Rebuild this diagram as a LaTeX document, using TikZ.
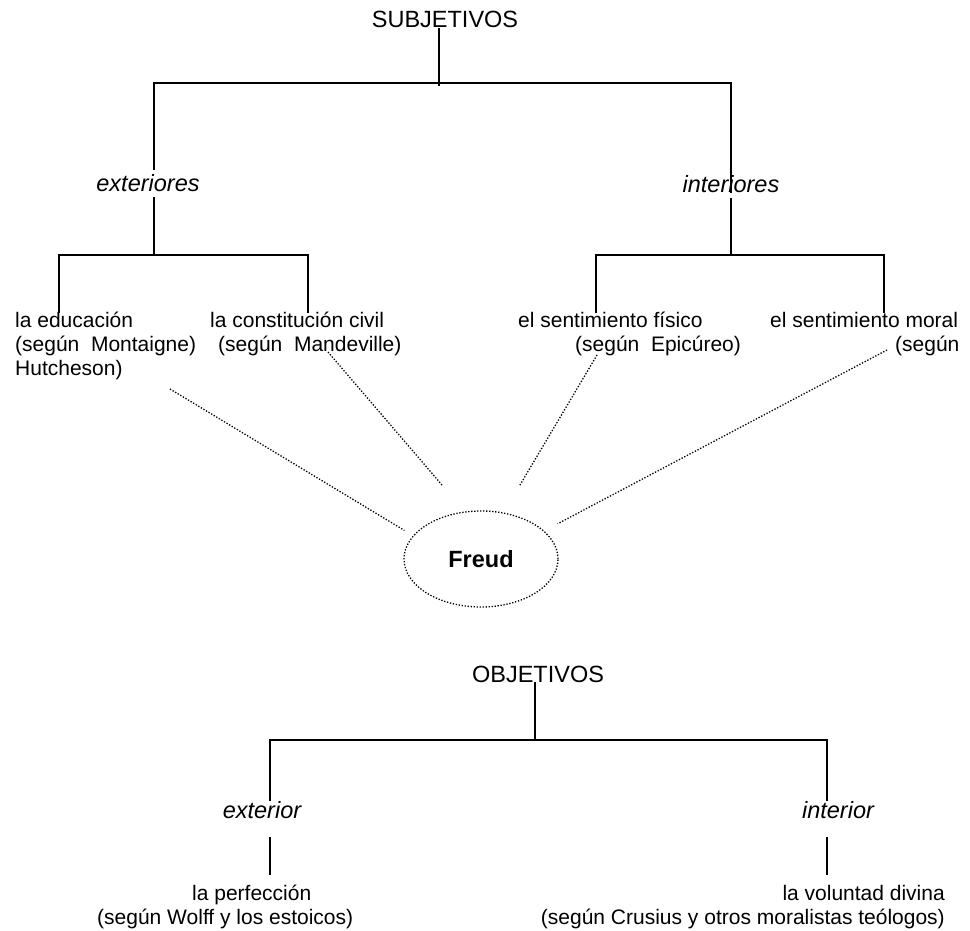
\documentclass[tikz,border=0pt]{standalone}
\usepackage{fontspec}
\setmainfont{Liberation Sans}
\usetikzlibrary{shapes.geometric}

\begin{document}
\begin{tikzpicture}[x=1pt, y=-1pt,
  txt/.style={inner sep=0pt, font=\fontsize{21}{25}\selectfont},
  head/.style={inner sep=0pt, anchor=base, font=\fontsize{23.5}{28}\selectfont},
  cat/.style={inner sep=0pt, anchor=base, font=\fontsize{23.5}{28}\selectfont\itshape},
  tree/.style={line width=1.8pt},
  link/.style={line width=1.3pt, dash pattern=on 1.3pt off 1.7pt}]
\useasboundingbox (0,0) rectangle (970,931);

\node[head] (subj) at (445,28) {SUBJETIVOS};
\node[cat] (ext) at (148,192) {exteriores};
\node[cat] (int) at (731,193) {interiores};

\node[txt, anchor=base west] (edu1) at (15,327) {la educación};
\node[txt, anchor=base west] (edu2) at (15,351) {(según~~Montaigne)};
\node[txt, anchor=base west] (edu3) at (15,375) {Hutcheson)};
\node[txt, anchor=base west] (civ1) at (210,327) {la constitución civil};
\node[txt, anchor=base west] (civ2) at (218,351) {(según~~Mandeville)};
\node[txt, anchor=base west] (fis1) at (518,327) {el sentimiento físico};
\node[txt, anchor=base west] (fis2) at (575,351) {(según~~Epicúreo)};
\node[txt, anchor=base west] (mor1) at (770,327) {el sentimiento moral};
\node[txt, anchor=base west] (mor2) at (895,351) {(según};

\coordinate (sj) at (439,83);
\coordinate (sL) at (154,83);
\coordinate (sR) at (731,83);
\coordinate (ej) at (154,255);
\coordinate (eL) at (59,255);
\coordinate (eR) at (308,255);
\coordinate (ij) at (731,255);
\coordinate (iL) at (596,255);
\coordinate (iR) at (884,255);

\draw[tree] (subj.base -| sj) -- ([yshift=-3pt]sj);
\draw[tree, shorten <=22pt] (ext.base -| sL) |- (sR) -- (int.base -| sR);
\draw[tree, shorten <=5pt] (ext.base -| ej) -- (ej);
\draw[tree, shorten <=5pt] (int.base -| ij) -- (ij);
\draw[tree, shorten <=14pt, shorten >=14pt] (edu1.base -| eL) |- (eR) -- (civ1.base -| eR);
\draw[tree, shorten <=14pt, shorten >=14pt] (fis1.base -| iL) |- (iR) -- (mor1.base -| iR);

\node[ellipse, draw, link, minimum width=154pt, minimum height=96pt, inner sep=0pt,
  font=\fontsize{23.5}{28}\selectfont\bfseries] (freud) at (481,559) {Freud};

\coordinate (s1) at (170,389);
\coordinate (s2) at (328,352);
\coordinate (s3) at (597,355);
\coordinate (s4) at (887,350);
\draw[link, shorten >=10pt] (s1) -- (freud.161);
\draw[link, shorten >=34pt] (s2) -- (freud.109);
\draw[link, shorten >=31pt] (s3) -- (freud.64);
\draw[link, shorten >=15pt] (s4) -- (freud.24);

\node[head] (obj) at (538,682) {OBJETIVOS};
\node[cat] (extb) at (262,818) {exterior};
\node[cat] (intb) at (838,818) {interior};
\node[txt, anchor=base west] (perf1) at (192,900) {la perfección};
\node[txt, anchor=base west] (perf2) at (97,924) {(según Wolff y los estoicos)};
\node[txt, anchor=base east] (vol1) at (945,900) {la voluntad divina};
\node[txt, anchor=base east] (vol2) at (945,924) {(según Crusius y otros moralistas teólogos)};

\coordinate (oj) at (535,740);
\coordinate (oL) at (270,740);
\coordinate (oR) at (827,740);

\draw[tree] (obj.base -| oj) -- (oj);
\draw[tree, shorten <=17pt, shorten >=17pt] (extb.base -| oL) |- (oR) -- (intb.base -| oR);
\draw[tree, shorten <=19pt, shorten >=25pt] (extb.base -| oL) -- (perf1.base -| oL);
\draw[tree, shorten <=19pt, shorten >=25pt] (intb.base -| oR) -- (vol1.base -| oR);
\end{tikzpicture}
\end{document}
